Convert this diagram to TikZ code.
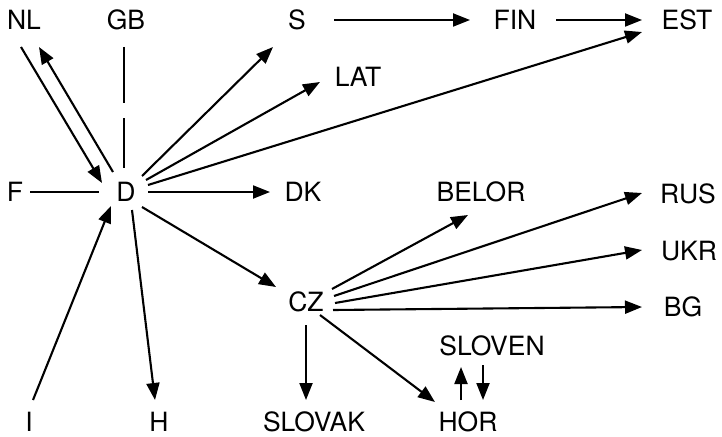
\documentclass[tikz,border=0pt]{standalone}
\usepackage{fontspec}
\setmainfont{TeX Gyre Heros}
\usetikzlibrary{arrows.meta}
\begin{document}
\begin{tikzpicture}[x=1pt,y=-1pt,
  lbl/.style={inner sep=0pt,text height=19pt,text depth=0pt,font=\fontsize{26.5}{30}\selectfont},
  ln/.style={line width=2.1pt,black},
  arr/.style={ln,-{Triangle[length=17pt,width=13pt]}}]
\useasboundingbox (0,0) rectangle (722,436);
\node[lbl] (NL) at (24,20) {NL};
\node[lbl] (GB) at (126,20) {GB};
\node[lbl] (S) at (297,20) {S};
\node[lbl] (FIN) at (515,20) {FIN};
\node[lbl] (EST) at (687,20) {EST};
\node[lbl] (LAT) at (358,77) {LAT};
\node[lbl] (F) at (15,192) {F};
\node[lbl] (D) at (126,192) {D};
\node[lbl] (DK) at (303,192) {DK};
\node[lbl] (BELOR) at (481,192) {BELOR};
\node[lbl] (RUS) at (688,194) {RUS};
\node[lbl] (UKR) at (689,251) {UKR};
\node[lbl] (BG) at (683,307) {BG};
\node[lbl] (CZ) at (306,302) {CZ};
\node[lbl] (SLOVEN) at (492,346) {SLOVEN};
\node[lbl] (HOR) at (468,422) {HOR};
\node[lbl] (SLOVAK) at (314,422) {SLOVAK};
\node[lbl] (I) at (29,422) {I};
\node[lbl] (H) at (159,422) {H};
% edges
\draw[arr] ([shift={(-3,27)}]NL.center) -- ([shift={(-24,-9)}]D.center);
\draw[arr] ([shift={(-13,-20)}]D.center) -- ([shift={(15,27)}]NL.center);
\draw[ln] ([shift={(-2,27)}]GB.center) -- ([shift={(-2,83)}]GB.center);
\draw[ln] ([shift={(-2,-74)}]D.center) -- ([shift={(-2,-24)}]D.center);
\draw[ln] ([shift={(15,0)}]F.center) -- ([shift={(-27,0)}]D.center);
\draw[arr] ([shift={(16,-16)}]D.center) -- ([shift={(-24,27)}]S.center);
\draw[arr] ([shift={(20,-12)}]D.center) -- ([shift={(-38,5)}]LAT.center);
\draw[arr] ([shift={(22,-7)}]D.center) -- ([shift={(-45,12)}]EST.center);
\draw[arr] ([shift={(22,0)}]D.center) -- ([shift={(-33,0)}]DK.center);
\draw[arr] ([shift={(16,15)}]D.center) -- ([shift={(-30,-15)}]CZ.center);
\draw[arr] ([shift={(6,18)}]D.center) -- ([shift={(-4,-22)}]H.center);
\draw[arr] ([shift={(4,-22)}]I.center) -- ([shift={(-15,14)}]D.center);
\draw[arr] ([shift={(37,0)}]S.center) -- ([shift={(-45,0)}]FIN.center);
\draw[arr] ([shift={(41,0)}]FIN.center) -- ([shift={(-45,0)}]EST.center);
\draw[arr] ([shift={(26,-13)}]CZ.center) -- ([shift={(-13,23)}]BELOR.center);
\draw[arr] ([shift={(28,-6)}]CZ.center) -- ([shift={(-46,-1)}]RUS.center);
\draw[arr] ([shift={(29,1)}]CZ.center) -- ([shift={(-47,-1)}]UKR.center);
\draw[arr] ([shift={(27,8)}]CZ.center) -- ([shift={(-41,0)}]BG.center);
\draw[arr] ([shift={(0,23)}]CZ.center) -- ([shift={(-8,-22)}]SLOVAK.center);
\draw[arr] ([shift={(14,13)}]CZ.center) -- ([shift={(-33,-20)}]HOR.center);
\draw[arr] ([shift={(-7,-22)}]HOR.center) -- ([shift={(-31,21)}]SLOVEN.center);
\draw[arr] ([shift={(-9,19)}]SLOVEN.center) -- ([shift={(15,-22)}]HOR.center);
\end{tikzpicture}
\end{document}
